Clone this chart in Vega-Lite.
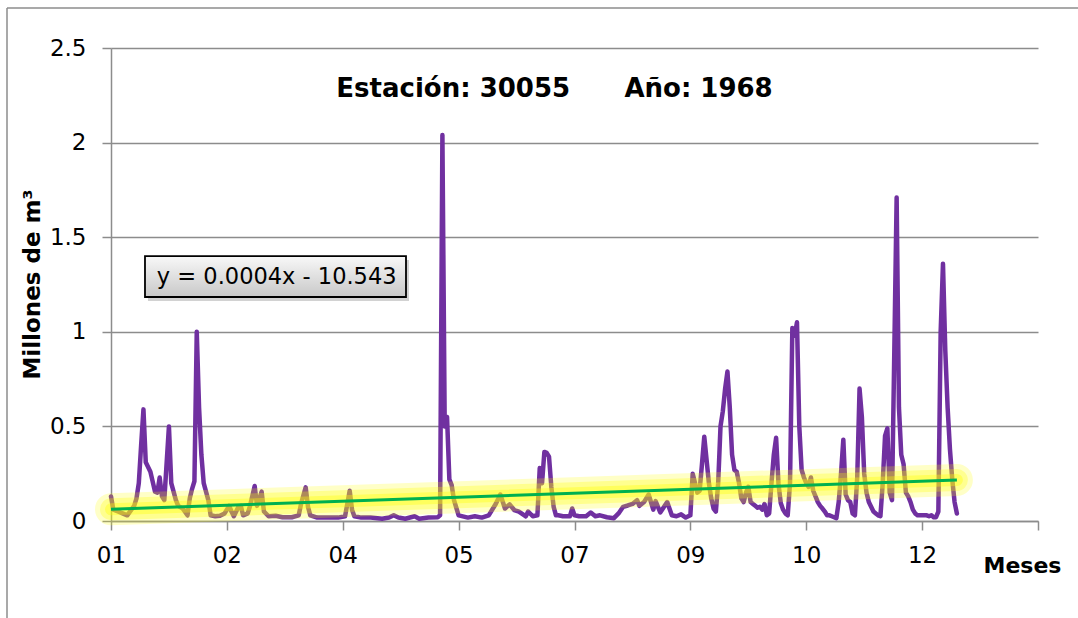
{
  "$schema": "https://vega.github.io/schema/vega-lite/v6.json",
  "autosize": {"type": "none"},
  "width": 927,
  "height": 473,
  "padding": {"left": 111, "top": 48, "right": 40, "bottom": 97},
  "background": "white",
  "config": {
    "view": {"stroke": null},
    "font": "DejaVu Sans",
    "axis": {"labelFont": "DejaVu Sans", "titleFont": "DejaVu Sans", "labelColor": "#000000", "titleColor": "#000000"}
  },
  "title": {
    "text": "Estación: 30055\u00a0\u00a0\u00a0\u00a0\u00a0\u00a0Año: 1968",
    "anchor": "middle",
    "dx": -20,
    "dy": 30,
    "offset": -86,
    "baseline": "alphabetic",
    "fontSize": 26,
    "fontWeight": "bold",
    "font": "DejaVu Sans",
    "color": "#000000"
  },
  "datasets": {
    "serie": [
      {"fecha": "1968-01-01", "valor": 0.13},
      {"fecha": "1968-01-02", "valor": 0.06},
      {"fecha": "1968-01-04", "valor": 0.05},
      {"fecha": "1968-01-06", "valor": 0.04},
      {"fecha": "1968-01-08", "valor": 0.03},
      {"fecha": "1968-01-11", "valor": 0.08},
      {"fecha": "1968-01-12", "valor": 0.12},
      {"fecha": "1968-01-13", "valor": 0.2},
      {"fecha": "1968-01-14", "valor": 0.4},
      {"fecha": "1968-01-15", "valor": 0.59},
      {"fecha": "1968-01-16", "valor": 0.31},
      {"fecha": "1968-01-18", "valor": 0.26},
      {"fecha": "1968-01-20", "valor": 0.155},
      {"fecha": "1968-01-21", "valor": 0.15},
      {"fecha": "1968-01-22", "valor": 0.23},
      {"fecha": "1968-01-23", "valor": 0.13},
      {"fecha": "1968-01-24", "valor": 0.11},
      {"fecha": "1968-01-26", "valor": 0.5},
      {"fecha": "1968-01-27", "valor": 0.2},
      {"fecha": "1968-01-29", "valor": 0.11},
      {"fecha": "1968-01-30", "valor": 0.08},
      {"fecha": "1968-02-01", "valor": 0.065},
      {"fecha": "1968-02-03", "valor": 0.03},
      {"fecha": "1968-02-04", "valor": 0.12},
      {"fecha": "1968-02-05", "valor": 0.17},
      {"fecha": "1968-02-06", "valor": 0.21},
      {"fecha": "1968-02-07", "valor": 1.0},
      {"fecha": "1968-02-08", "valor": 0.6},
      {"fecha": "1968-02-09", "valor": 0.35},
      {"fecha": "1968-02-10", "valor": 0.2},
      {"fecha": "1968-02-12", "valor": 0.11},
      {"fecha": "1968-02-13", "valor": 0.03},
      {"fecha": "1968-02-15", "valor": 0.025},
      {"fecha": "1968-02-17", "valor": 0.028},
      {"fecha": "1968-02-19", "valor": 0.04},
      {"fecha": "1968-02-21", "valor": 0.08},
      {"fecha": "1968-02-22", "valor": 0.05},
      {"fecha": "1968-02-23", "valor": 0.025},
      {"fecha": "1968-02-25", "valor": 0.075},
      {"fecha": "1968-02-26", "valor": 0.08},
      {"fecha": "1968-02-27", "valor": 0.03},
      {"fecha": "1968-02-29", "valor": 0.04},
      {"fecha": "1968-03-01", "valor": 0.08},
      {"fecha": "1968-03-03", "valor": 0.185},
      {"fecha": "1968-03-04", "valor": 0.08},
      {"fecha": "1968-03-06", "valor": 0.155},
      {"fecha": "1968-03-07", "valor": 0.05},
      {"fecha": "1968-03-09", "valor": 0.025},
      {"fecha": "1968-03-12", "valor": 0.028},
      {"fecha": "1968-03-15", "valor": 0.02},
      {"fecha": "1968-03-19", "valor": 0.02},
      {"fecha": "1968-03-22", "valor": 0.03},
      {"fecha": "1968-03-23", "valor": 0.09},
      {"fecha": "1968-03-25", "valor": 0.178},
      {"fecha": "1968-03-26", "valor": 0.075},
      {"fecha": "1968-03-27", "valor": 0.03},
      {"fecha": "1968-03-30", "valor": 0.018},
      {"fecha": "1968-04-02", "valor": 0.018},
      {"fecha": "1968-04-05", "valor": 0.018},
      {"fecha": "1968-04-08", "valor": 0.018},
      {"fecha": "1968-04-11", "valor": 0.025},
      {"fecha": "1968-04-13", "valor": 0.16},
      {"fecha": "1968-04-14", "valor": 0.06},
      {"fecha": "1968-04-15", "valor": 0.025},
      {"fecha": "1968-04-18", "valor": 0.018},
      {"fecha": "1968-04-22", "valor": 0.018},
      {"fecha": "1968-04-27", "valor": 0.012},
      {"fecha": "1968-04-30", "valor": 0.018},
      {"fecha": "1968-05-02", "valor": 0.03},
      {"fecha": "1968-05-04", "valor": 0.018},
      {"fecha": "1968-05-07", "valor": 0.012},
      {"fecha": "1968-05-11", "valor": 0.025},
      {"fecha": "1968-05-13", "valor": 0.012},
      {"fecha": "1968-05-17", "valor": 0.018},
      {"fecha": "1968-05-21", "valor": 0.02},
      {"fecha": "1968-05-22", "valor": 0.03},
      {"fecha": "1968-05-23", "valor": 2.04},
      {"fecha": "1968-05-24", "valor": 0.5},
      {"fecha": "1968-05-25", "valor": 0.55},
      {"fecha": "1968-05-26", "valor": 0.22},
      {"fecha": "1968-05-27", "valor": 0.19},
      {"fecha": "1968-05-28", "valor": 0.11},
      {"fecha": "1968-05-29", "valor": 0.07},
      {"fecha": "1968-05-30", "valor": 0.03},
      {"fecha": "1968-06-03", "valor": 0.018},
      {"fecha": "1968-06-06", "valor": 0.025},
      {"fecha": "1968-06-09", "valor": 0.018},
      {"fecha": "1968-06-12", "valor": 0.03},
      {"fecha": "1968-06-15", "valor": 0.09},
      {"fecha": "1968-06-17", "valor": 0.14},
      {"fecha": "1968-06-19", "valor": 0.066},
      {"fecha": "1968-06-21", "valor": 0.088},
      {"fecha": "1968-06-23", "valor": 0.058},
      {"fecha": "1968-06-25", "valor": 0.05},
      {"fecha": "1968-06-28", "valor": 0.025},
      {"fecha": "1968-06-29", "valor": 0.05},
      {"fecha": "1968-07-01", "valor": 0.025},
      {"fecha": "1968-07-03", "valor": 0.03},
      {"fecha": "1968-07-04", "valor": 0.28},
      {"fecha": "1968-07-05", "valor": 0.2},
      {"fecha": "1968-07-06", "valor": 0.365},
      {"fecha": "1968-07-07", "valor": 0.36},
      {"fecha": "1968-07-08", "valor": 0.34},
      {"fecha": "1968-07-09", "valor": 0.18},
      {"fecha": "1968-07-10", "valor": 0.075},
      {"fecha": "1968-07-11", "valor": 0.03},
      {"fecha": "1968-07-12", "valor": 0.03},
      {"fecha": "1968-07-14", "valor": 0.025},
      {"fecha": "1968-07-17", "valor": 0.025},
      {"fecha": "1968-07-18", "valor": 0.066},
      {"fecha": "1968-07-19", "valor": 0.03},
      {"fecha": "1968-07-21", "valor": 0.025},
      {"fecha": "1968-07-24", "valor": 0.025},
      {"fecha": "1968-07-26", "valor": 0.045},
      {"fecha": "1968-07-28", "valor": 0.025},
      {"fecha": "1968-07-30", "valor": 0.03},
      {"fecha": "1968-08-02", "valor": 0.02},
      {"fecha": "1968-08-05", "valor": 0.015},
      {"fecha": "1968-08-07", "valor": 0.04},
      {"fecha": "1968-08-09", "valor": 0.075},
      {"fecha": "1968-08-11", "valor": 0.082},
      {"fecha": "1968-08-13", "valor": 0.09},
      {"fecha": "1968-08-15", "valor": 0.11},
      {"fecha": "1968-08-16", "valor": 0.08},
      {"fecha": "1968-08-18", "valor": 0.1},
      {"fecha": "1968-08-20", "valor": 0.14},
      {"fecha": "1968-08-22", "valor": 0.06},
      {"fecha": "1968-08-23", "valor": 0.105},
      {"fecha": "1968-08-25", "valor": 0.045},
      {"fecha": "1968-08-28", "valor": 0.1},
      {"fecha": "1968-08-30", "valor": 0.03},
      {"fecha": "1968-09-01", "valor": 0.025},
      {"fecha": "1968-09-03", "valor": 0.035},
      {"fecha": "1968-09-05", "valor": 0.018},
      {"fecha": "1968-09-07", "valor": 0.03},
      {"fecha": "1968-09-08", "valor": 0.25},
      {"fecha": "1968-09-09", "valor": 0.2},
      {"fecha": "1968-09-10", "valor": 0.15},
      {"fecha": "1968-09-11", "valor": 0.16},
      {"fecha": "1968-09-12", "valor": 0.3},
      {"fecha": "1968-09-13", "valor": 0.445},
      {"fecha": "1968-09-15", "valor": 0.2},
      {"fecha": "1968-09-16", "valor": 0.12},
      {"fecha": "1968-09-17", "valor": 0.066},
      {"fecha": "1968-09-18", "valor": 0.05},
      {"fecha": "1968-09-19", "valor": 0.2},
      {"fecha": "1968-09-20", "valor": 0.5},
      {"fecha": "1968-09-21", "valor": 0.58},
      {"fecha": "1968-09-22", "valor": 0.7},
      {"fecha": "1968-09-23", "valor": 0.79},
      {"fecha": "1968-09-24", "valor": 0.6},
      {"fecha": "1968-09-25", "valor": 0.35},
      {"fecha": "1968-09-26", "valor": 0.27},
      {"fecha": "1968-09-27", "valor": 0.26},
      {"fecha": "1968-09-28", "valor": 0.2},
      {"fecha": "1968-09-29", "valor": 0.12},
      {"fecha": "1968-09-30", "valor": 0.1},
      {"fecha": "1968-10-01", "valor": 0.15},
      {"fecha": "1968-10-02", "valor": 0.18},
      {"fecha": "1968-10-03", "valor": 0.1},
      {"fecha": "1968-10-04", "valor": 0.09},
      {"fecha": "1968-10-05", "valor": 0.08},
      {"fecha": "1968-10-06", "valor": 0.07},
      {"fecha": "1968-10-07", "valor": 0.075},
      {"fecha": "1968-10-08", "valor": 0.06},
      {"fecha": "1968-10-09", "valor": 0.09},
      {"fecha": "1968-10-10", "valor": 0.03},
      {"fecha": "1968-10-11", "valor": 0.04},
      {"fecha": "1968-10-12", "valor": 0.2},
      {"fecha": "1968-10-13", "valor": 0.35},
      {"fecha": "1968-10-14", "valor": 0.44},
      {"fecha": "1968-10-15", "valor": 0.2},
      {"fecha": "1968-10-16", "valor": 0.095},
      {"fecha": "1968-10-17", "valor": 0.06},
      {"fecha": "1968-10-18", "valor": 0.04},
      {"fecha": "1968-10-19", "valor": 0.03},
      {"fecha": "1968-10-20", "valor": 0.2},
      {"fecha": "1968-10-21", "valor": 1.02},
      {"fecha": "1968-10-22", "valor": 0.98},
      {"fecha": "1968-10-23", "valor": 1.05},
      {"fecha": "1968-10-24", "valor": 0.5},
      {"fecha": "1968-10-25", "valor": 0.27},
      {"fecha": "1968-10-26", "valor": 0.23},
      {"fecha": "1968-10-27", "valor": 0.2},
      {"fecha": "1968-10-28", "valor": 0.18},
      {"fecha": "1968-10-29", "valor": 0.23},
      {"fecha": "1968-10-30", "valor": 0.16},
      {"fecha": "1968-10-31", "valor": 0.13},
      {"fecha": "1968-11-01", "valor": 0.1},
      {"fecha": "1968-11-02", "valor": 0.08},
      {"fecha": "1968-11-03", "valor": 0.066},
      {"fecha": "1968-11-04", "valor": 0.05},
      {"fecha": "1968-11-05", "valor": 0.03},
      {"fecha": "1968-11-06", "valor": 0.03},
      {"fecha": "1968-11-07", "valor": 0.025},
      {"fecha": "1968-11-08", "valor": 0.02},
      {"fecha": "1968-11-09", "valor": 0.015},
      {"fecha": "1968-11-10", "valor": 0.1},
      {"fecha": "1968-11-11", "valor": 0.25},
      {"fecha": "1968-11-12", "valor": 0.43},
      {"fecha": "1968-11-13", "valor": 0.14},
      {"fecha": "1968-11-14", "valor": 0.11},
      {"fecha": "1968-11-15", "valor": 0.1},
      {"fecha": "1968-11-16", "valor": 0.04},
      {"fecha": "1968-11-17", "valor": 0.03},
      {"fecha": "1968-11-18", "valor": 0.23},
      {"fecha": "1968-11-19", "valor": 0.7},
      {"fecha": "1968-11-20", "valor": 0.55},
      {"fecha": "1968-11-21", "valor": 0.25},
      {"fecha": "1968-11-22", "valor": 0.15},
      {"fecha": "1968-11-23", "valor": 0.1},
      {"fecha": "1968-11-24", "valor": 0.075},
      {"fecha": "1968-11-25", "valor": 0.05},
      {"fecha": "1968-11-26", "valor": 0.04},
      {"fecha": "1968-11-27", "valor": 0.03},
      {"fecha": "1968-11-28", "valor": 0.025},
      {"fecha": "1968-11-29", "valor": 0.2},
      {"fecha": "1968-11-30", "valor": 0.45},
      {"fecha": "1968-12-01", "valor": 0.49},
      {"fecha": "1968-12-02", "valor": 0.15},
      {"fecha": "1968-12-03", "valor": 0.11},
      {"fecha": "1968-12-04", "valor": 0.9},
      {"fecha": "1968-12-05", "valor": 1.71},
      {"fecha": "1968-12-06", "valor": 0.6},
      {"fecha": "1968-12-07", "valor": 0.35},
      {"fecha": "1968-12-08", "valor": 0.3},
      {"fecha": "1968-12-09", "valor": 0.15},
      {"fecha": "1968-12-10", "valor": 0.13},
      {"fecha": "1968-12-11", "valor": 0.1},
      {"fecha": "1968-12-12", "valor": 0.06},
      {"fecha": "1968-12-13", "valor": 0.04},
      {"fecha": "1968-12-14", "valor": 0.03},
      {"fecha": "1968-12-15", "valor": 0.03},
      {"fecha": "1968-12-16", "valor": 0.03},
      {"fecha": "1968-12-17", "valor": 0.03},
      {"fecha": "1968-12-18", "valor": 0.03},
      {"fecha": "1968-12-19", "valor": 0.025},
      {"fecha": "1968-12-20", "valor": 0.03},
      {"fecha": "1968-12-21", "valor": 0.02},
      {"fecha": "1968-12-22", "valor": 0.02},
      {"fecha": "1968-12-23", "valor": 0.05},
      {"fecha": "1968-12-24", "valor": 1.0},
      {"fecha": "1968-12-25", "valor": 1.36},
      {"fecha": "1968-12-26", "valor": 0.9},
      {"fecha": "1968-12-27", "valor": 0.6},
      {"fecha": "1968-12-28", "valor": 0.38},
      {"fecha": "1968-12-29", "valor": 0.22},
      {"fecha": "1968-12-30", "valor": 0.1},
      {"fecha": "1968-12-31", "valor": 0.04}
    ],
    "tendencia": [
      {"fecha": "1968-01-01", "valor": 0.062},
      {"fecha": "1968-12-31", "valor": 0.217}
    ]
  },
  "layer": [
    {
      "data": {"values": [{}]},
      "mark": {"type": "rule", "color": "#8c8c8c", "strokeWidth": 1.5},
      "encoding": {
        "x": {"datum": {"year": 1967, "month": 11, "date": 17, "hours": 3}, "type": "temporal"},
        "y": {"datum": -0.6, "type": "quantitative"},
        "y2": {"datum": 2.711}
      }
    },
    {
      "data": {"values": [{}]},
      "mark": {"type": "rule", "color": "#8c8c8c", "strokeWidth": 1.5},
      "encoding": {
        "x": {"datum": {"year": 1967, "month": 11, "date": 17, "hours": 3}, "type": "temporal"},
        "x2": {"datum": {"year": 1969, "month": 3, "date": 15}},
        "y": {"datum": 2.711, "type": "quantitative"}
      }
    },
    {
      "data": {"name": "serie"},
      "mark": {"type": "line", "color": "#7030a0", "strokeWidth": 4.5, "strokeJoin": "round", "strokeCap": "round"},
      "encoding": {
        "x": {
          "field": "fecha",
          "type": "temporal",
          "title": "Meses",
          "scale": {"domain": [{"year": 1968, "month": 1, "date": 1}, {"year": 1969, "month": 2, "date": 4}]},
          "axis": {
            "values": [
              {"year": 1968, "month": 1, "date": 1},
              {"year": 1968, "month": 2, "date": 20},
              {"year": 1968, "month": 4, "date": 10},
              {"year": 1968, "month": 5, "date": 30},
              {"year": 1968, "month": 7, "date": 19},
              {"year": 1968, "month": 9, "date": 7},
              {"year": 1968, "month": 10, "date": 27},
              {"year": 1968, "month": 12, "date": 16},
              {"year": 1969, "month": 2, "date": 4}
            ],
            "format": "%m",
            "labelExpr": "year(datum.value) > 1968 ? '' : datum.label",
            "labelFlush": false,
            "labelFontSize": 23,
            "labelPadding": 14,
            "labelBaseline": "top",
            "tickSize": 9,
            "tickColor": "#8c8c8c",
            "tickWidth": 1.5,
            "domainColor": "#8c8c8c",
            "domainWidth": 1.5,
            "grid": false,
            "titleFontSize": 22,
            "titleFontWeight": "bold",
            "titleX": 911,
            "titleY": 44,
            "titleAlign": "center",
            "titleBaseline": "middle"
          }
        },
        "y": {
          "field": "valor",
          "type": "quantitative",
          "title": "Millones de m³",
          "scale": {"domain": [0, 2.5], "nice": false},
          "axis": {
            "values": [0, 0.5, 1, 1.5, 2, 2.5],
            "format": "~g",
            "labelFontSize": 23,
            "labelPadding": 16,
            "tickSize": 9,
            "tickColor": "#8c8c8c",
            "tickWidth": 1.5,
            "domainColor": "#8c8c8c",
            "domainWidth": 1.5,
            "grid": true,
            "gridColor": "#8c8c8c",
            "gridWidth": 1.5,
            "titleFontSize": 23,
            "titleFontWeight": "bold",
            "titleAngle": -90,
            "titleX": -79,
            "titleY": 236,
            "titleAlign": "center",
            "titleBaseline": "middle"
          }
        }
      }
    },
    {
      "data": {"name": "tendencia"},
      "mark": {"type": "line", "color": "#ffff00", "strokeWidth": 32, "opacity": 0.22, "strokeCap": "round"},
      "encoding": {"x": {"field": "fecha", "type": "temporal"}, "y": {"field": "valor", "type": "quantitative"}}
    },
    {
      "data": {"name": "tendencia"},
      "mark": {"type": "line", "color": "#ffff00", "strokeWidth": 22, "opacity": 0.28, "strokeCap": "round"},
      "encoding": {"x": {"field": "fecha", "type": "temporal"}, "y": {"field": "valor", "type": "quantitative"}}
    },
    {
      "data": {"name": "tendencia"},
      "mark": {"type": "line", "color": "#ffff00", "strokeWidth": 12, "opacity": 0.35, "strokeCap": "round"},
      "encoding": {"x": {"field": "fecha", "type": "temporal"}, "y": {"field": "valor", "type": "quantitative"}}
    },
    {
      "data": {"name": "tendencia"},
      "mark": {"type": "line", "color": "#00b050", "strokeWidth": 3},
      "encoding": {"x": {"field": "fecha", "type": "temporal"}, "y": {"field": "valor", "type": "quantitative"}}
    },
    {
      "data": {"values": [{}]},
      "mark": {"type": "rect", "color": "#7f7f7f", "opacity": 0.35, "xOffset": 3, "x2Offset": 3, "yOffset": 4, "y2Offset": 4},
      "encoding": {
        "x": {"datum": {"year": 1968, "month": 1, "date": 15, "hours": 16}, "type": "temporal"},
        "x2": {"datum": {"year": 1968, "month": 5, "date": 7, "hours": 7}},
        "y": {"datum": 1.40, "type": "quantitative"},
        "y2": {"datum": 1.184}
      }
    },
    {
      "data": {"values": [{}]},
      "mark": {
        "type": "rect",
        "stroke": "#000000",
        "strokeWidth": 1.8,
        "fill": {"gradient": "linear", "x1": 0, "y1": 0, "x2": 0, "y2": 1, "stops": [{"offset": 0, "color": "#f8f8f8"}, {"offset": 1, "color": "#c8c8c8"}]}
      },
      "encoding": {
        "x": {"datum": {"year": 1968, "month": 1, "date": 15, "hours": 16}, "type": "temporal"},
        "x2": {"datum": {"year": 1968, "month": 5, "date": 7, "hours": 7}},
        "y": {"datum": 1.40, "type": "quantitative"},
        "y2": {"datum": 1.184}
      }
    },
    {
      "data": {"values": [{}]},
      "mark": {"type": "text", "text": "y = 0.0004x - 10.543", "fontSize": 22.5, "font": "DejaVu Sans", "color": "#000000", "align": "center", "baseline": "middle"},
      "encoding": {
        "x": {"datum": {"year": 1968, "month": 3, "date": 12, "hours": 12}, "type": "temporal"},
        "y": {"datum": 1.292, "type": "quantitative"}
      }
    }
  ]
}
